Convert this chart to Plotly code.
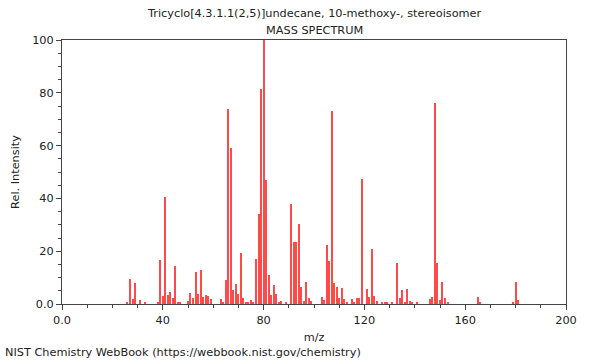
import plotly.graph_objects as go

mz = [26, 27, 28, 29, 31, 33, 38, 39, 40, 41, 42, 43, 44, 45, 46, 47, 50, 51, 52, 53,
      54, 55, 56, 57, 58, 59, 63, 64, 65, 66, 67, 68, 69, 70, 71, 72, 73, 74, 75, 76,
      77, 78, 79, 80, 81, 82, 83, 84, 85, 86, 87, 89, 91, 92, 93, 94, 95, 96, 97, 98,
      99, 103, 104, 105, 106, 107, 108, 109, 110, 111, 112, 113, 115, 116, 117, 118,
      119, 121, 122, 123, 124, 125, 127, 128, 129, 131, 133, 134, 135, 136, 137, 138,
      139, 141, 146, 147, 148, 149, 150, 151, 152, 153, 165, 166, 179, 180, 181]
intensity = [0.5, 9.3, 1.9, 7.8, 1.5, 0.4, 0.5, 16.5, 3.2, 40.4, 3.5, 4.7, 2.1, 14.3, 0.6, 0.5, 1.0, 4.0, 2.3, 12.0,
             3.9, 13.0, 2.6, 3.6, 3.0, 1.9, 1.8, 0.9, 9.1, 73.9, 59.2, 5.2, 7.6, 3.8, 19.3, 2.3, 0.8, 0.8, 1.5, 0.8,
             17.2, 34.2, 81.4, 100, 47.0, 11.0, 3.4, 7.1, 3.7, 0.9, 1.0, 0.8, 37.8, 23.3, 23.4, 30.4, 6.4, 1.1, 8.3, 2.3,
             1.1, 2.7, 1.5, 22.5, 16.3, 73.1, 7.8, 6.3, 2.3, 6.1, 1.8, 0.5, 1.9, 0.8, 2.4, 2.3,
             47.3, 5.7, 2.7, 20.8, 3.0, 1.1, 0.5, 0.7, 0.7, 0.8, 15.5, 2.1, 5.3, 0.8, 5.7, 1.1,
             0.9, 0.8, 2.0, 2.7, 76.1, 15.5, 1.5, 8.3, 2.3, 0.4, 2.8, 0.6, 0.6, 8.5, 1.5]

x_tickvals = [0, 40, 80, 120, 160, 200]
x_ticktext = ["0.0", "40", "80", "120", "160", "200"]
y_tickvals = [0, 20, 40, 60, 80, 100]
y_ticktext = ["0.0", "20", "40", "60", "80", "100"]

title_line1 = "Tricyclo[4.3.1.1(2,5)]undecane, 10-methoxy-, stereoisomer"
title_line2 = "MASS SPECTRUM"
footer = "NIST Chemistry WebBook (https://webbook.nist.gov/chemistry)"

FONT = "DejaVu Sans"
FS = 11.3
AXIS_COLOR = "#444444"
TEXT_COLOR = "#222222"

fig = go.Figure()
fig.add_trace(go.Bar(
    x=mz, y=intensity, width=0.42,
    marker=dict(color="#ff4a4a", line=dict(width=0)),
    hoverinfo="x+y",
))

fig.update_layout(
    width=600, height=360,
    margin=dict(l=62, r=34, t=40, b=56),
    paper_bgcolor="white", plot_bgcolor="white",
    font=dict(family=FONT, size=FS, color=TEXT_COLOR),
    showlegend=False,
    bargap=0,
    xaxis=dict(
        range=[0, 200], showgrid=False, zeroline=False, automargin=False,
        showline=True, mirror=True, linecolor=AXIS_COLOR, linewidth=1,
        ticks="outside", ticklen=5, tickcolor=AXIS_COLOR,
        tickvals=x_tickvals, ticktext=x_ticktext,
        tickfont=dict(family=FONT, size=FS, color=TEXT_COLOR),
        minor=dict(dtick=10, tick0=0, ticks="outside", ticklen=3, tickcolor=AXIS_COLOR, showgrid=False),
        title=dict(text="m/z", font=dict(family=FONT, size=FS), standoff=7),
    ),
    yaxis=dict(
        range=[0, 100], showgrid=False, zeroline=False, automargin=False,
        showline=True, mirror=True, linecolor=AXIS_COLOR, linewidth=1,
        ticks="outside", ticklen=5, tickcolor=AXIS_COLOR,
        tickvals=y_tickvals, ticktext=y_ticktext,
        tickfont=dict(family=FONT, size=FS, color=TEXT_COLOR),
        minor=dict(dtick=5, tick0=0, ticks="outside", ticklen=3, tickcolor=AXIS_COLOR, showgrid=False),
        title=dict(text="Rel. Intensity", font=dict(family=FONT, size=FS), standoff=10),
    ),
    annotations=[
        dict(text=title_line1, xref="paper", yref="paper", x=0.5, y=1, yshift=27,
             showarrow=False, xanchor="center", yanchor="middle",
             font=dict(family=FONT, size=FS, color=TEXT_COLOR)),
        dict(text=title_line2, xref="paper", yref="paper", x=0.5, y=1, yshift=10,
             showarrow=False, xanchor="center", yanchor="middle",
             font=dict(family=FONT, size=FS, color=TEXT_COLOR)),
        dict(text=footer, xref="paper", yref="paper", x=0, xshift=-59, y=0, yshift=-48,
             showarrow=False, xanchor="left", yanchor="middle",
             font=dict(family=FONT, size=FS, color=TEXT_COLOR)),
    ],
)

fig.write_html("out.html", config={"displayModeBar": False},
               post_script="document.body.style.margin='0';document.body.style.overflow='hidden';")
